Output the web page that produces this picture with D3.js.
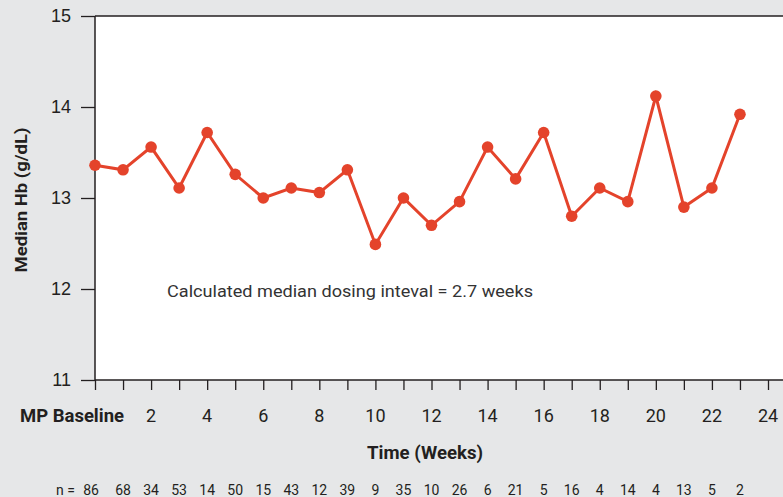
<!DOCTYPE html>
<html><head><meta charset="utf-8">
<script src="https://cdn.jsdelivr.net/npm/d3@7"></script>
<style>
html,body{margin:0;padding:0;background:#e6e7e8;}
svg{display:block;font-family:"Roboto",sans-serif;}
</style></head>
<body><svg id="c" width="783" height="497"></svg>
<script>
const weeks = [0,1,2,3,4,5,6,7,8,9,10,11,12,13,14,15,16,17,18,19,20,21,22,23];
const hb = [13.36,13.31,13.56,13.11,13.72,13.26,13.00,13.11,13.06,13.31,12.49,13.00,12.70,12.96,13.56,13.21,13.72,12.80,13.11,12.96,14.12,12.90,13.11,13.92];
const nCounts = [86,68,34,53,14,50,15,43,12,39,9,35,10,26,6,21,5,16,4,14,4,13,5,2];
const yTicks = [11,12,13,14,15];
const xTickLabels = [2,4,6,8,10,12,14,16,18,20,22,24];
const xTickMarks = d3.range(0,25);

const svg = d3.select("#c");
const W=783,H=497;
const mL=95, mT=16, mB=380, mR=783;
const x = d3.scaleLinear().domain([0,24]).range([mL,768]);
const y = d3.scaleLinear().domain([11,15]).range([mB,mT]);
const ink="#231f20", red="#e4432b";

svg.append("rect").attr("width",W).attr("height",H).attr("fill","#e6e7e8");
svg.append("rect").attr("x",mL).attr("y",mT).attr("width",mR-mL).attr("height",mB-mT).attr("fill","#fff");

// y axis
const ya = svg.append("g").attr("transform",`translate(${mL},0)`)
  .call(d3.axisLeft(y).tickValues(yTicks).tickSize(14).tickPadding(10).tickFormat(d3.format("d")));
ya.select(".domain").remove();
ya.selectAll("line").attr("stroke",ink).attr("stroke-width",1.3);
ya.selectAll("text").attr("font-size",18).attr("fill",ink).attr("font-family","inherit");
svg.append("line").attr("x1",mL).attr("x2",mL).attr("y1",mT).attr("y2",mB).attr("stroke",ink).attr("stroke-width",1.5);
svg.append("line").attr("x1",mL).attr("x2",mR).attr("y1",mT).attr("y2",mT).attr("stroke",ink).attr("stroke-width",1.5);

// x axis
const xa = svg.append("g").attr("transform",`translate(0,${mB})`)
  .call(d3.axisBottom(x).tickValues(xTickMarks).tickSize(10).tickFormat(""));
xa.select(".domain").remove();
xa.selectAll("line").attr("stroke",ink).attr("stroke-width",1.3);
svg.append("line").attr("x1",mL).attr("x2",mR).attr("y1",mB).attr("y2",mB).attr("stroke",ink).attr("stroke-width",1.5);

svg.append("g").selectAll("text").data(xTickLabels).join("text")
  .attr("x",d=>x(d)).attr("y",422).attr("text-anchor","middle")
  .attr("font-size",18).attr("fill",ink).text(d=>d);
svg.append("text").attr("x",x(0)+29).attr("y",422).attr("text-anchor","end")
  .attr("font-size",18).attr("font-weight","bold").attr("fill",ink)
  .attr("textLength",104).attr("lengthAdjust","spacingAndGlyphs").text("MP Baseline");

svg.append("text").attr("x",425).attr("y",459).attr("text-anchor","middle")
  .attr("font-size",18).attr("font-weight","bold").attr("fill",ink)
  .attr("textLength",116).attr("lengthAdjust","spacingAndGlyphs").text("Time (Weeks)");

svg.append("text").attr("transform","translate(27,200) rotate(-90)").attr("text-anchor","middle")
  .attr("font-size",16.5).attr("font-weight","bold").attr("fill",ink)
  .attr("textLength",145).attr("lengthAdjust","spacingAndGlyphs").text("Median Hb (g/dL)");

// n row
svg.append("text").attr("x",75).attr("y",495).attr("text-anchor","end")
  .attr("font-size",14).attr("fill",ink).text("n =");
svg.append("g").selectAll("text").data(nCounts).join("text")
  .attr("x",(d,i)=>x(weeks[i])+(i===0?-4:0)).attr("y",495).attr("text-anchor","middle")
  .attr("font-size",14).attr("fill",ink).text(d=>d);

// annotation
svg.append("text").attr("x",167).attr("y",297).attr("font-size",17).attr("fill","#333")
  .attr("textLength",366).attr("lengthAdjust","spacingAndGlyphs")
  .text("Calculated median dosing inteval = 2.7 weeks");

// line
const line = d3.line().x((d,i)=>x(weeks[i])).y(d=>y(d));
svg.append("path").datum(hb).attr("d",line).attr("fill","none").attr("stroke",red).attr("stroke-width",3);
svg.append("g").selectAll("circle").data(hb).join("circle")
  .attr("cx",(d,i)=>x(weeks[i])).attr("cy",d=>y(d)).attr("r",5.8).attr("fill",red);
</script></body></html>
